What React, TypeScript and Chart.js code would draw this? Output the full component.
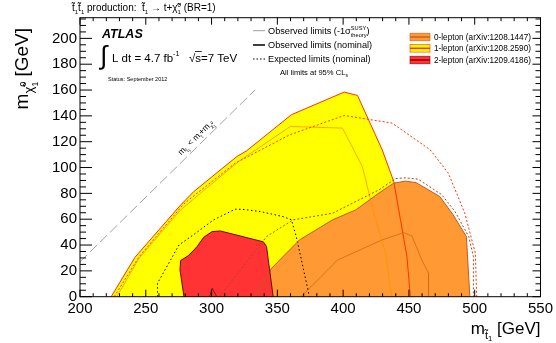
import React, { useEffect, useRef } from "react";
import { Chart, registerables } from "chart.js";

Chart.register(...registerables);

// ---------- data (GeV) ----------
// 1-lepton (arXiv:1208.2590)
const oneLepObsX = [223.7, 241.8, 276.5, 286.5, 319.2, 326.7, 360.7, 400.8, 410.9, 429.7, 438.5, 443.6, 448.5, 451.1];
const oneLepObsY = [0, 30.5, 71, 81.4, 108.5, 113, 140.9, 158.4, 155.8, 113.7, 89.1, 59.5, 31, 0];
const oneLepExpX = [226, 245, 279, 318, 359.4, 400.8, 437.2, 466.2, 479.9, 492.5, 500.5, 501.5];
const oneLepExpY = [0, 31, 72, 103.4, 125.3, 140.3, 134.4, 113.7, 95.7, 64.6, 33.6, 0];
const oneLepM1X = [228, 245, 276.5, 320.4, 359.9, 399.5, 414.6, 423.4, 432.3, 436.8];
const oneLepM1Y = [0, 30, 67.2, 104.6, 131.8, 130.5, 100.8, 64.6, 33.6, 0];

// 0-lepton (arXiv:1208.1447)
const zeroLepObsX = [333, 345.6, 366.9, 392, 409.6, 427.2, 438.5, 447.3, 455.5, 473.5, 483.5, 493.7, 496.3];
const zeroLepObsY = [0, 22, 44, 59.5, 67.2, 80.2, 87.9, 89.5, 88.3, 77.5, 63.5, 46.5, 0];
const zeroLepExpX = [306, 341.8, 361.9, 392, 427.2, 440, 447.3, 457, 474.9, 485, 495.5, 499, 499];
const zeroLepExpY = [0, 46.5, 59.5, 64.6, 82.7, 91.5, 92, 91, 79, 66, 46.5, 31, 0];
const zeroLepM1X = [368, 395.8, 429.7, 446, 452.3, 459.8, 464.9, 464.9];
const zeroLepM1Y = [0, 28.4, 44, 49.6, 47, 28.4, 18.1, 0];

// 2-lepton (arXiv:1209.4186)
const twoLepObsX = [279, 276, 276.5, 282.7, 289, 294, 300.4, 306.6, 339.3, 341.8, 346.8];
const twoLepObsY = [0, 20.7, 28, 32, 38.8, 46, 50.4, 50.9, 42.5, 38.8, 0];
const twoLepExpX = [258.9, 258.9, 275.2, 287.8, 301.6, 317.9, 323, 336.8, 354.3, 360.7, 364.4, 374.4];
const twoLepExpY = [0, 10.4, 40, 49.1, 59.5, 67.7, 67.7, 66, 62, 59.5, 46.5, 0];
const twoLepM1X = [298.5, 300.4, 304];
const twoLepM1Y = [0, 6.5, 0];

// kinematic limit m_stop = m_top + m_LSP
const kinX = [200, 333];
const kinY = [27, 160];

const X_MIN = 200, X_MAX = 550, X_STEP = 50;
const Y_MIN = 0, Y_MAX = 216, Y_STEP = 20;

const FONT = '"Liberation Sans", Arial, Helvetica, sans-serif';

const pts = (xs: number[], ys: number[]) => xs.map((x, i) => ({ x, y: ys[i] }));

type Part = { t: string; s?: number; dy?: number; noAdv?: boolean };

function richWidth(ctx: CanvasRenderingContext2D, parts: Part[], size: number) {
  let w = 0;
  for (const p of parts) {
    ctx.font = `${size * (p.s ?? 1)}px ${FONT}`;
    if (!p.noAdv) w += ctx.measureText(p.t).width;
  }
  return w;
}

function drawRich(
  ctx: CanvasRenderingContext2D,
  x: number,
  y: number,
  parts: Part[],
  size: number,
  align: "left" | "right" | "center" = "left",
  color = "#000"
) {
  const w = richWidth(ctx, parts, size);
  let cx = align === "right" ? x - w : align === "center" ? x - w / 2 : x;
  ctx.textAlign = "left";
  ctx.textBaseline = "alphabetic";
  ctx.fillStyle = color;
  const xs: number[] = [];
  for (const p of parts) {
    ctx.font = `${size * (p.s ?? 1)}px ${FONT}`;
    xs.push(cx);
    ctx.fillText(p.t, cx, y + (p.dy ?? 0) * size);
    if (!p.noAdv) cx += ctx.measureText(p.t).width;
  }
  xs.push(cx);
  return xs;
}

const T = "t\u0303";
const CHI = "\u03c7\u0303";

const decorPlugin = {
  id: "decor",
  afterDraw(chart: any) {
    const ctx: CanvasRenderingContext2D = chart.ctx;
    const xs = chart.scales.x;
    const ys = chart.scales.y;
    const { left, right, top, bottom } = chart.chartArea;
    ctx.save();

    // frame + ticks
    ctx.strokeStyle = "#000";
    ctx.lineWidth = 1;
    ctx.strokeRect(left, top, right - left, bottom - top);
    ctx.beginPath();
    for (let v = X_MIN; v <= X_MAX; v += 10) {
      const px = xs.getPixelForValue(v);
      const L = v % X_STEP === 0 ? 7 : 3.5;
      ctx.moveTo(px, bottom);
      ctx.lineTo(px, bottom - L);
      ctx.moveTo(px, top);
      ctx.lineTo(px, top + L);
    }
    for (let v = Y_MIN; v <= Y_MAX; v += 5) {
      const py = ys.getPixelForValue(v);
      const major = v % Y_STEP === 0;
      ctx.moveTo(left, py);
      ctx.lineTo(left + (major ? 12 : 6), py);
      ctx.moveTo(right, py);
      ctx.lineTo(right - (major ? 8 : 5), py);
    }
    ctx.stroke();

    // title
    drawRich(ctx, 72, 11, [
      { t: T }, { t: "1", s: 0.6, dy: 0.3 }, { t: T }, { t: "1", s: 0.6, dy: 0.3 },
      { t: " production:  " }, { t: T }, { t: "1", s: 0.6, dy: 0.3 },
      { t: " \u2192 t+" }, { t: CHI }, { t: "0", s: 0.6, dy: -0.45, noAdv: true }, { t: "1", s: 0.6, dy: 0.3 },
      { t: " (BR=1)" },
    ], 10);

    // axis titles
    drawRich(ctx, right, 334, [
      { t: "m" }, { t: T, s: 0.65, dy: 0.28 }, { t: "1", s: 0.45, dy: 0.42 }, { t: " [GeV]" },
    ], 17, "right");
    ctx.save();
    ctx.translate(28, 28);
    ctx.rotate(-Math.PI / 2);
    drawRich(ctx, 0, 0, [
      { t: "m" }, { t: CHI, s: 0.7, dy: 0.28 }, { t: "0", s: 0.45, dy: -0.1, noAdv: true }, { t: "1", s: 0.45, dy: 0.5 },
      { t: " [GeV]" },
    ], 19, "right");
    ctx.restore();

    // ATLAS label
    ctx.fillStyle = "#000";
    ctx.textAlign = "left";
    ctx.textBaseline = "alphabetic";
    ctx.font = `italic bold 12.5px ${FONT}`;
    ctx.fillText("ATLAS", 102, 37.5);
    ctx.font = `26px ${FONT}`;
    ctx.fillText("\u222b", 100, 64);
    const lx = drawRich(ctx, 112, 61.5, [
      { t: "L dt = 4.7 fb" }, { t: "-1", s: 0.62, dy: -0.45 }, { t: "   " }, { t: "\u221a" }, { t: "s=7 TeV" },
    ], 11.5);
    ctx.beginPath();
    ctx.lineWidth = 0.8;
    ctx.moveTo(lx[3] + 6, 51.5);
    ctx.lineTo(lx[4] + 6.5, 51.5);
    ctx.stroke();
    ctx.font = `5.5px ${FONT}`;
    ctx.fillText("Status: September 2012", 108, 81);

    // left legend
    ctx.lineWidth = 0.8;
    ctx.strokeStyle = "#888";
    ctx.beginPath(); ctx.moveTo(253, 30.7); ctx.lineTo(265, 30.7); ctx.stroke();
    ctx.strokeStyle = "#000";
    ctx.lineWidth = 1.5;
    ctx.beginPath(); ctx.moveTo(253, 45); ctx.lineTo(265, 45); ctx.stroke();
    ctx.lineWidth = 1;
    ctx.setLineDash([1.5, 2]);
    ctx.beginPath(); ctx.moveTo(253, 59); ctx.lineTo(265, 59); ctx.stroke();
    ctx.setLineDash([]);
    drawRich(ctx, 268, 34, [
      { t: "Observed limits (-1\u03c3" }, { t: "SUSY", s: 0.62, dy: -0.45, noAdv: true }, { t: "theory", s: 0.62, dy: 0.3 }, { t: ")" },
    ], 9.2);
    drawRich(ctx, 268, 48.3, [{ t: "Observed limits (nominal)" }], 9.2);
    drawRich(ctx, 268, 62.3, [{ t: "Expected limits (nominal)" }], 9.2);
    drawRich(ctx, 280, 75.2, [{ t: "All limits at 95% CL" }, { t: "s", s: 0.65, dy: 0.3 }], 7.6);

    // right legend
    const boxes = [
      { y: 37, fill: "#ff9933", line: "#d0601c", label: "0-lepton (arXiv:1208.1447)" },
      { y: 48.3, fill: "#ffff00", line: "#ff3300", label: "1-lepton (arXiv:1208.2590)" },
      { y: 60, fill: "#ff3333", line: "#99000a", label: "2-lepton (arXiv:1209.4186)" },
    ];
    for (const b of boxes) {
      ctx.fillStyle = b.fill;
      ctx.fillRect(410, b.y - 3.8, 20, 7.6);
      ctx.strokeStyle = b.line;
      ctx.lineWidth = 0.6;
      ctx.strokeRect(410, b.y - 3.8, 20, 7.6);
      ctx.lineWidth = 1.5;
      ctx.beginPath(); ctx.moveTo(410, b.y); ctx.lineTo(430, b.y); ctx.stroke();
      drawRich(ctx, 434, b.y + 2.9, [{ t: b.label }], 8.2);
    }

    // kinematic line label
    const ax = xs.getPixelForValue(292);
    const ay = ys.getPixelForValue(292 - 173);
    const ang = Math.atan2(
      ys.getPixelForValue(160) - ys.getPixelForValue(27),
      xs.getPixelForValue(333) - xs.getPixelForValue(200)
    );
    ctx.save();
    ctx.translate(ax, ay);
    ctx.rotate(ang);
    drawRich(ctx, 0, -5, [
      { t: "m" }, { t: T, s: 0.6, dy: 0.28 }, { t: "1", s: 0.45, dy: 0.42 },
      { t: " < m" }, { t: "t", s: 0.6, dy: 0.28 }, { t: "+m" }, { t: CHI, s: 0.6, dy: 0.28 },
      { t: "0", s: 0.45, dy: -0.05, noAdv: true }, { t: "1", s: 0.45, dy: 0.45 },
    ], 8.5, "center");
    ctx.restore();

    ctx.restore();
  },
};

function line(data: any[], color: string, width: number, dash: number[] = [], order = 5) {
  return {
    data,
    showLine: true,
    fill: false,
    borderColor: color,
    borderWidth: width,
    borderDash: dash,
    pointRadius: 0,
    tension: 0,
    order,
  };
}

function area(data: any[], fillColor: string, color: string, width: number, order: number) {
  return {
    data,
    showLine: true,
    fill: "shape",
    backgroundColor: fillColor,
    borderColor: color,
    borderWidth: width,
    pointRadius: 0,
    tension: 0,
    order,
  };
}

export default function App() {
  const ref = useRef<HTMLCanvasElement>(null);
  useEffect(() => {
    document.body.style.margin = "0";
    const tickFont = { family: FONT, size: 15 };
    const chart = new Chart(ref.current as HTMLCanvasElement, {
      type: "scatter",
      data: {
        datasets: [
          area(pts(twoLepObsX, twoLepObsY), "#ff3333", "#6a0a0a", 1, 0),
          area(pts(zeroLepObsX, zeroLepObsY), "#ff9933", "#c05a20", 1, 1),
          area(pts(oneLepObsX, oneLepObsY), "#ffff00", "#ff3300", 1, 2),
          line(pts(oneLepExpX, oneLepExpY), "#ff3300", 1, [2, 2], 6),
          line(pts(oneLepM1X, oneLepM1Y), "#ff9000", 0.8, [], 6),
          line(pts(zeroLepExpX, zeroLepExpY), "#a84a18", 1, [2, 2], 4),
          line(pts(zeroLepM1X, zeroLepM1Y), "#d8641c", 0.8, [], 4),
          line(pts(twoLepExpX, twoLepExpY), "#000000", 1, [1.5, 2.5], 3),
          line(pts(twoLepM1X, twoLepM1Y), "#800000", 0.8, [], 3),
          line(pts(kinX, kinY), "#8a8a8a", 0.8, [10, 4], 7),
        ] as any,
      },
      options: {
        animation: false,
        responsive: false,
        maintainAspectRatio: false,
        events: [],
        layout: { padding: { top: 17.7, right: 13, left: 0, bottom: 0 } },
        plugins: {
          legend: { display: false },
          tooltip: { enabled: false },
          filler: { drawTime: "beforeDatasetsDraw", propagate: false },
        } as any,
        scales: {
          x: {
            type: "linear",
            min: X_MIN,
            max: X_MAX,
            ticks: { stepSize: X_STEP, font: tickFont, color: "#000", padding: 3, maxRotation: 0, autoSkip: false, includeBounds: false },
            grid: { display: false, drawTicks: false },
            border: { display: false },
            afterFit: (s: any) => { s.height = 46.3; },
          },
          y: {
            type: "linear",
            min: Y_MIN,
            max: Y_MAX,
            ticks: { stepSize: Y_STEP, font: tickFont, color: "#000", padding: 3, autoSkip: false, includeBounds: false },
            grid: { display: false, drawTicks: false },
            border: { display: false },
            afterFit: (s: any) => { s.width = 80; },
          },
        } as any,
      },
      plugins: [decorPlugin],
    });
    return () => chart.destroy();
  }, []);
  return <canvas ref={ref} width={556} height={343} style={{ display: "block", width: 556, height: 343 }} />;
}
